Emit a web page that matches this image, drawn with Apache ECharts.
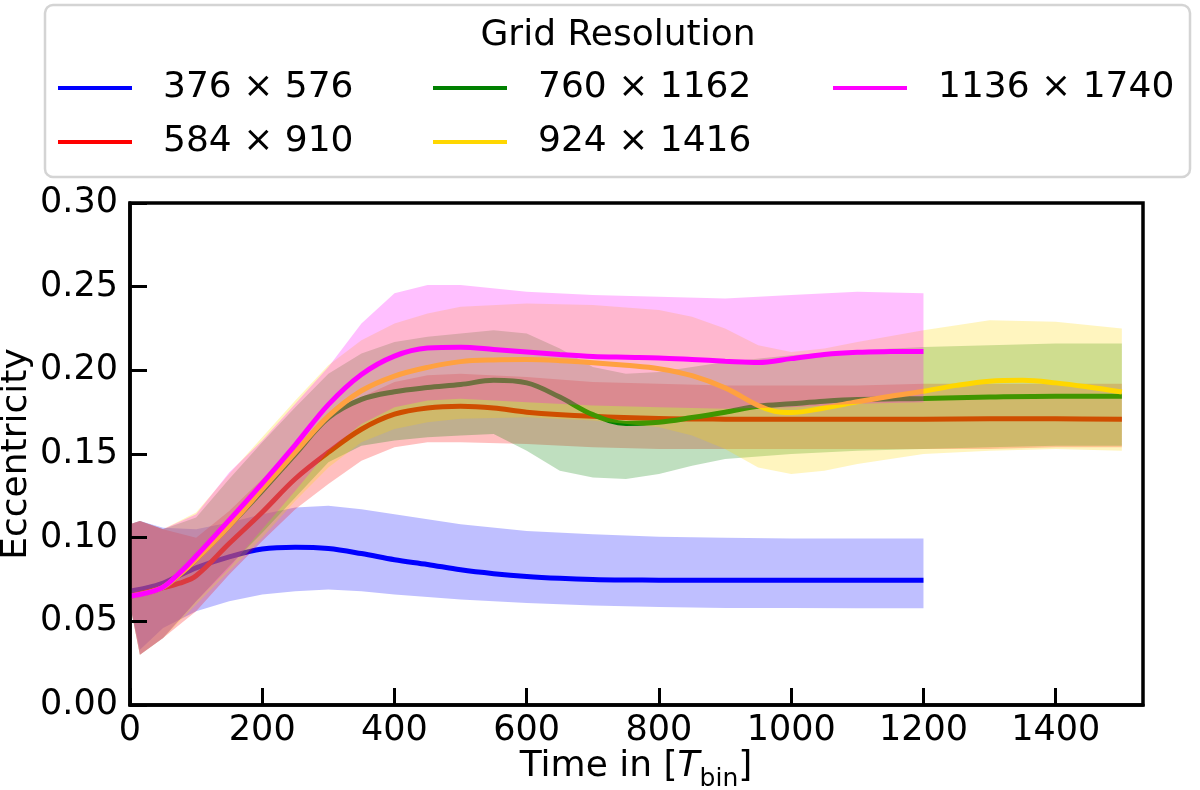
<!DOCTYPE html>
<html>
<head>
<meta charset="utf-8">
<script src="https://cdn.jsdelivr.net/npm/echarts@6/dist/echarts.min.js"></script>
<style>
html,body{margin:0;padding:0;background:#fff;}
#chart{width:1200px;height:790px;}
</style>
</head>
<body>
<div id="chart"></div>
<script>
// ---------- data ----------
const NAMES = ['376 × 576', '584 × 910', '760 × 1162', '924 × 1416', '1136 × 1740'];
const COLORS = ['#0000ff', '#ff0000', '#008000', '#ffd700', '#ff00ff'];
const X_TICKS = [0, 200, 400, 600, 800, 1000, 1200, 1400];
const Y_TICKS = [0, 0.05, 0.10, 0.15, 0.20, 0.25, 0.30];

// smoothed curves
const BLUE_T = [0,25,47,75,100,150,200,250,300,350,400,450,500,550,600,650,700,750,800,850,900,950,1000,1050,1100,1150,1200];
const BLUE_Y = [0.068,0.070,0.0724,0.0775,0.0820,0.0885,0.0932,0.0943,0.0935,0.0905,0.0868,0.0840,0.0808,0.0785,0.0768,0.0757,0.0750,0.0747,0.0746,0.0745,0.0745,0.0745,0.0745,0.0745,0.0745,0.0745,0.0745];

const RED_T = [0,47,75,100,150,200,250,300,350,400,450,500,550,600,700,800,900,1000,1100,1200,1300,1400,1500];
const RED_Y = [0.065,0.0698,0.0728,0.0772,0.0965,0.1152,0.1352,0.1510,0.1648,0.1738,0.1775,0.1785,0.1775,0.1750,0.1725,0.1712,0.1708,0.1707,0.1707,0.1708,0.1710,0.1710,0.1708];

const GREEN_T = [0,47,75,100,150,200,250,300,350,400,450,500,550,600,650,700,750,800,850,900,950,1000,1050,1100,1200,1300,1400,1500];
const GREEN_Y = [0.065,0.0698,0.078,0.087,0.107,0.128,0.150,0.1716,0.1826,0.1872,0.1897,0.1915,0.1940,0.1925,0.1840,0.1735,0.1683,0.1690,0.1718,0.1750,0.1785,0.1800,0.1815,0.1825,0.1832,0.1840,0.1845,0.1845];

const YEL_T = [0,47,75,100,150,200,250,300,350,400,450,500,550,600,650,700,750,800,850,900,950,975,1000,1050,1100,1150,1200,1250,1300,1350,1400,1450,1500];
const YEL_Y = [0.065,0.0698,0.078,0.087,0.107,0.129,0.151,0.1726,0.1878,0.1966,0.2018,0.2052,0.2062,0.2064,0.2058,0.2046,0.2030,0.2010,0.1968,0.1895,0.1790,0.1755,0.1748,0.1775,0.1812,0.1845,0.1875,0.1910,0.1935,0.1940,0.1925,0.1900,0.1870];

const MAG_T = [0,47,75,100,150,200,250,300,350,400,450,500,550,600,650,700,750,800,850,900,950,1000,1050,1100,1150,1200];
const MAG_Y = [0.065,0.0698,0.0790,0.0890,0.1105,0.1325,0.1555,0.1795,0.1975,0.2085,0.2133,0.2138,0.2125,0.2110,0.2095,0.2083,0.2078,0.2074,0.2065,0.2055,0.2047,0.2070,0.2095,0.2108,0.2112,0.2113];

// envelopes of the raw (oscillating) data
const BLUE_RAW_T  = [0,15,50,100,150,200,250,300,350,400,500,600,700,800,900,1000,1100,1200];
const BLUE_RAW_HI = [0.108,0.110,0.106,0.105,0.109,0.114,0.118,0.119,0.117,0.114,0.108,0.104,0.102,0.1005,0.100,0.0995,0.0995,0.0995];
const BLUE_RAW_LO = [0.060,0.033,0.046,0.056,0.062,0.066,0.068,0.069,0.068,0.066,0.063,0.061,0.0595,0.0585,0.058,0.058,0.0578,0.0578];

const RED_RAW_T  = [0,15,50,100,150,200,250,300,350,400,450,500,600,700,800,900,1000,1100,1200,1300,1400,1500];
const RED_RAW_HI = [0.108,0.110,0.105,0.100,0.116,0.135,0.154,0.170,0.184,0.193,0.197,0.198,0.196,0.193,0.192,0.191,0.191,0.191,0.192,0.192,0.192,0.192];
const RED_RAW_LO = [0.060,0.030,0.040,0.056,0.078,0.098,0.117,0.132,0.146,0.154,0.157,0.157,0.156,0.154,0.153,0.153,0.153,0.153,0.153,0.153,0.154,0.154];

const GREEN_RAW_T  = [0,15,50,100,150,200,250,300,350,400,450,500,550,600,650,700,750,800,850,900,1000,1100,1200,1300,1400,1500];
const GREEN_RAW_HI = [0.108,0.110,0.105,0.112,0.135,0.157,0.178,0.198,0.210,0.217,0.220,0.222,0.224,0.222,0.213,0.202,0.198,0.199,0.202,0.205,0.209,0.212,0.214,0.215,0.216,0.216];
const GREEN_RAW_LO = [0.060,0.030,0.040,0.062,0.083,0.103,0.124,0.145,0.155,0.158,0.160,0.161,0.162,0.152,0.140,0.136,0.135,0.138,0.143,0.147,0.150,0.152,0.153,0.154,0.155,0.155];

const YEL_RAW_T  = [0,15,50,100,150,200,250,300,350,400,450,500,600,700,800,850,900,950,1000,1050,1100,1200,1300,1400,1500];
const YEL_RAW_HI = [0.108,0.110,0.105,0.115,0.138,0.160,0.182,0.203,0.218,0.228,0.234,0.238,0.240,0.239,0.236,0.232,0.225,0.215,0.211,0.213,0.217,0.224,0.230,0.229,0.225];
const YEL_RAW_LO = [0.060,0.030,0.040,0.060,0.080,0.100,0.122,0.142,0.157,0.165,0.169,0.171,0.172,0.170,0.166,0.161,0.153,0.142,0.138,0.140,0.144,0.150,0.152,0.153,0.152];

const MAG_RAW_T  = [0,15,50,100,150,200,250,300,350,400,450,500,600,700,800,900,1000,1100,1200];
const MAG_RAW_HI = [0.108,0.110,0.105,0.114,0.139,0.158,0.180,0.202,0.228,0.246,0.251,0.251,0.247,0.245,0.244,0.243,0.245,0.247,0.246];
const MAG_RAW_LO = [0.060,0.030,0.040,0.062,0.082,0.105,0.128,0.152,0.168,0.178,0.182,0.183,0.181,0.179,0.178,0.177,0.178,0.180,0.181];

// ---------- chart ----------
const FONT = '"DejaVu Sans", "Liberation Sans", sans-serif';

function rgba(hex, a) {
  const n = parseInt(hex.slice(1), 16);
  return 'rgba(' + ((n >> 16) & 255) + ',' + ((n >> 8) & 255) + ',' + (n & 255) + ',' + a + ')';
}

function bandSeries(name, color, tArr, loArr, hiArr, z) {
  return {
    type: 'custom',
    name: name + ' raw',
    silent: true,
    clip: true,
    z: z,
    data: tArr.map((t, i) => [t, loArr[i], hiArr[i]]),
    encode: { x: 0, y: [1, 2] },
    renderItem: function (params, api) {
      if (params.dataIndex !== 0) return null;
      const pts = [];
      for (let i = 0; i < tArr.length; i++) pts.push(api.coord([tArr[i], hiArr[i]]));
      for (let i = tArr.length - 1; i >= 0; i--) pts.push(api.coord([tArr[i], loArr[i]]));
      return { type: 'polygon', shape: { points: pts }, style: { fill: rgba(color, 0.25), stroke: null } };
    }
  };
}

function lineSeries(name, color, tArr, yArr, z) {
  return {
    type: 'line',
    name: name,
    color: color,
    z: z,
    data: tArr.map((t, i) => [t, yArr[i]]),
    showSymbol: false,
    smooth: 0.35,
    lineStyle: { color: color, width: 5 },
    silent: true,
    clip: true
  };
}

const series = [
  bandSeries(NAMES[0], COLORS[0], BLUE_RAW_T, BLUE_RAW_LO, BLUE_RAW_HI, 2),
  lineSeries(NAMES[0], COLORS[0], BLUE_T, BLUE_Y, 3),
  bandSeries(NAMES[1], COLORS[1], RED_RAW_T, RED_RAW_LO, RED_RAW_HI, 4),
  lineSeries(NAMES[1], COLORS[1], RED_T, RED_Y, 5),
  bandSeries(NAMES[2], COLORS[2], GREEN_RAW_T, GREEN_RAW_LO, GREEN_RAW_HI, 6),
  lineSeries(NAMES[2], COLORS[2], GREEN_T, GREEN_Y, 7),
  bandSeries(NAMES[3], COLORS[3], YEL_RAW_T, YEL_RAW_LO, YEL_RAW_HI, 8),
  lineSeries(NAMES[3], COLORS[3], YEL_T, YEL_Y, 9),
  bandSeries(NAMES[4], COLORS[4], MAG_RAW_T, MAG_RAW_LO, MAG_RAW_HI, 10),
  lineSeries(NAMES[4], COLORS[4], MAG_T, MAG_Y, 11)
];

const legendCommon = {
  orient: 'vertical',
  top: 68,
  padding: 0,
  icon: 'rect',
  itemWidth: 74,
  itemHeight: 4,
  itemGap: 14,
  selectedMode: false,
  z: 20,
  textStyle: { fontSize: 36, lineHeight: 40, color: '#000', fontFamily: FONT, padding: [0, 0, 0, 26] }
};

const chart = echarts.init(document.getElementById('chart'), null, { renderer: 'canvas' });
chart.setOption({
  animation: false,
  backgroundColor: '#fff',
  grid: {
    left: 130, right: 57, top: 203, bottom: 85,
    show: true, borderColor: '#000', borderWidth: 3.5, backgroundColor: 'transparent',
    containLabel: false, outerBoundsMode: 'none'
  },
  legend: [
    Object.assign({}, legendCommon, { left: 58, data: [NAMES[0], NAMES[1]] }),
    Object.assign({}, legendCommon, { left: 433, data: [NAMES[2], NAMES[3]] }),
    Object.assign({}, legendCommon, { left: 833, data: [NAMES[4]] })
  ],
  xAxis: {
    type: 'value', min: 0, max: 1532, z: 15,
    axisLine: { show: true, onZero: false, lineStyle: { color: '#000', width: 3.5 } },
    axisTick: { show: true, inside: true, length: 17, lineStyle: { color: '#000', width: 3 }, customValues: X_TICKS },
    axisLabel: { customValues: X_TICKS, fontSize: 35, color: '#000', fontFamily: FONT, margin: 8, formatter: v => String(v) },
    splitLine: { show: false }
  },
  yAxis: {
    type: 'value', min: 0, max: 0.3, z: 15,
    axisLine: { show: true, onZero: false, lineStyle: { color: '#000', width: 3.5 } },
    axisTick: { show: true, inside: true, length: 17, lineStyle: { color: '#000', width: 3 }, customValues: Y_TICKS },
    axisLabel: { customValues: Y_TICKS, fontSize: 35, color: '#000', fontFamily: FONT, margin: 12, formatter: v => v.toFixed(2) },
    splitLine: { show: false }
  },
  graphic: [
    { type: 'rect', z: -1, shape: { x: 45, y: 5, width: 1145, height: 172, r: 8 },
      style: { fill: '#fff', stroke: '#d4d4d4', lineWidth: 2.5 } },
    { type: 'text', z: 10, x: 618, y: 36,
      style: { text: 'Grid Resolution', font: '36px ' + FONT, fill: '#000', align: 'center', verticalAlign: 'middle' } },
    { type: 'text', z: 10, x: 17, y: 454, rotation: Math.PI / 2,
      style: { text: 'Eccentricity', font: '36px ' + FONT, fill: '#000', align: 'center', verticalAlign: 'middle' } },
    { type: 'text', z: 10, x: 636, y: 767,
      style: {
        text: '{n|Time in [}{i|T}{s|bin}{n|]}',
        align: 'center', verticalAlign: 'middle', fill: '#000',
        rich: {
          n: { fontSize: 36, fontFamily: FONT, lineHeight: 50, verticalAlign: 'middle', fill: '#000' },
          i: { fontSize: 36, fontFamily: FONT, fontStyle: 'italic', lineHeight: 50, verticalAlign: 'middle', fill: '#000' },
          s: { fontSize: 25, fontFamily: FONT, lineHeight: 34, verticalAlign: 'bottom', fill: '#000' }
        }
      } }
  ],
  series: series
});
</script>
</body>
</html>
